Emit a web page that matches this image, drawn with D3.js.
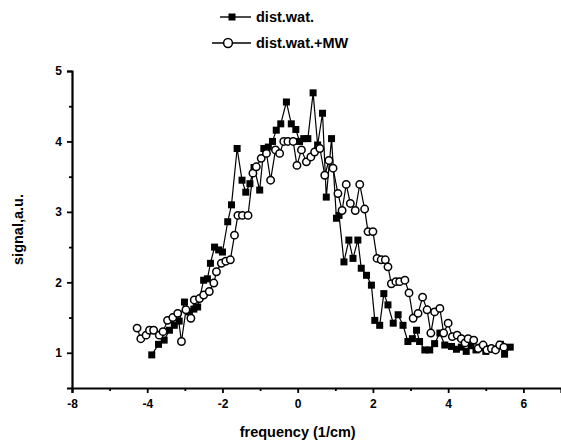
<!DOCTYPE html>
<html>
<head>
<meta charset="utf-8">
<script src="https://cdn.jsdelivr.net/npm/d3@7"></script>
<style>
  body { margin: 0; background: #fff; }
  svg { display: block; font-family: "Liberation Sans", Arial, sans-serif; font-weight: bold; }
</style>
</head>
<body>
<svg id="chart" width="561" height="444"></svg>
<script>
// dist.wat. (filled squares)
const waterX = [-3.88, -3.70, -3.55, -3.41, -3.28, -3.15, -3.01, -2.88, -2.76, -2.66, -2.50, -2.40, -2.32, -2.21, -2.10, -2.00,
  -1.86, -1.76, -1.61, -1.48, -1.38, -1.27, -1.16, -1.01, -0.90, -0.78, -0.67, -0.57, -0.45, -0.30, -0.17, -0.05,
  0.05, 0.16, 0.27, 0.41, 0.53, 0.66, 0.76, 0.90, 1.03, 1.10, 1.23, 1.36, 1.47, 1.60, 1.69, 1.83, 1.96,
  2.05, 2.18, 2.29, 2.40, 2.54, 2.67, 2.80, 2.93, 3.05, 3.16, 3.24, 3.38, 3.51, 3.64, 3.78, 3.91,
  4.09, 4.22, 4.35, 4.48, 4.61, 4.74, 4.87, 5.00, 5.13, 5.26, 5.39, 5.50, 5.65];
const waterY = [0.97, 1.12, 1.18, 1.32, 1.39, 1.45, 1.72, 1.58, 1.62, 1.65, 2.03, 2.05, 2.27, 2.50, 2.46, 2.43,
  2.86, 3.10, 3.90, 3.45, 3.28, 3.40, 3.63, 3.31, 3.90, 3.92, 4.00, 4.16, 4.25, 4.56, 4.25, 4.17,
  4.00, 4.04, 4.04, 4.69, 3.95, 4.40, 3.21, 4.04, 2.91, 2.95, 2.29, 2.60, 2.34, 2.60, 2.20, 2.10, 1.96,
  1.46, 1.39, 1.84, 1.68, 1.42, 1.54, 1.39, 1.16, 1.20, 1.32, 1.16, 1.04, 1.04, 1.13, 1.28, 1.11,
  1.09, 1.05, 1.08, 1.02, 1.10, 1.04, 1.08, 1.02, 1.06, 1.05, 1.12, 0.98, 1.08];

// dist.wat.+MW (open circles)
const mwX = [-4.27, -4.17, -4.03, -3.94, -3.83, -3.68, -3.58, -3.46, -3.32, -3.19, -3.09, -2.97, -2.84, -2.75, -2.61, -2.50,
  -2.35, -2.23, -2.16, -2.03, -1.91, -1.79, -1.68, -1.59, -1.47, -1.32, -1.19, -1.10, -0.97, -0.83, -0.72, -0.59,
  -0.48, -0.37, -0.26, -0.12, -0.02, 0.10, 0.23, 0.35, 0.45, 0.59, 0.72, 0.83, 0.94, 1.07, 1.18, 1.29, 1.40,
  1.53, 1.65, 1.78, 1.87, 2.00, 2.11, 2.22, 2.33, 2.40, 2.49, 2.61, 2.71, 2.85, 2.96, 3.07, 3.20, 3.32, 3.44,
  3.54, 3.64, 3.78, 3.88, 4.00, 4.11, 4.24, 4.35, 4.45, 4.53, 4.68, 4.80, 4.93, 5.03, 5.15, 5.26, 5.37, 5.48];
const mwY = [1.35, 1.20, 1.25, 1.32, 1.32, 1.25, 1.30, 1.46, 1.50, 1.56, 1.16, 1.61, 1.49, 1.75, 1.77, 1.82,
  1.87, 1.99, 2.15, 2.27, 2.30, 2.32, 2.67, 2.95, 2.95, 2.95, 3.55, 3.64, 3.76, 3.83, 3.45, 3.88,
  3.83, 4.00, 4.00, 4.00, 3.66, 3.88, 3.71, 3.78, 3.85, 3.90, 3.52, 3.73, 3.62, 3.26, 3.02, 3.39, 3.12,
  3.02, 3.39, 3.04, 2.72, 2.72, 2.34, 2.32, 2.32, 2.22, 1.98, 2.01, 2.01, 2.03, 1.85, 1.49, 1.56, 1.79, 1.61,
  1.28, 1.58, 1.63, 1.28, 1.42, 1.23, 1.25, 1.20, 1.14, 1.20, 1.18, 1.06, 1.11, 1.04, 1.06, 1.04, 1.11, 1.08];

const xTicks = [-6, -4, -2, 0, 2, 4, 6];
const xTickLabels = ["-8", "-4", "-2", "0", "2", "4", "6"];
const yTicks = [1, 2, 3, 4, 5];
const seriesNames = ["dist.wat.", "dist.wat.+MW"];

const svg = d3.select('#chart');
const margin = {left: 72, top: 71, right: 0, bottom: 56};
const width = 561, height = 444;

const x = d3.scaleLinear().domain([-6, 7]).range([margin.left, width - margin.right]);
const y = d3.scaleLinear().domain([0.5, 5]).range([height - margin.bottom, margin.top]);

// axes
const xAxis = d3.axisBottom(x).tickValues(xTicks).tickSize(5).tickPadding(6)
  .tickFormat((d, i) => xTickLabels[i]);
svg.append('g').attr('transform', `translate(0,${y(0.5)})`).call(xAxis);
const xMinor = d3.axisBottom(x).tickValues(d3.range(-5, 7, 2)).tickSize(3).tickFormat('');
svg.append('g').attr('transform', `translate(0,${y(0.5)})`).call(xMinor).select('.domain').remove();

const yAxis = d3.axisLeft(y).tickValues(yTicks).tickSize(5).tickPadding(5).tickFormat(d3.format('d'));
svg.append('g').attr('transform', `translate(${x(-6)},0)`).call(yAxis);
const yMinor = d3.axisLeft(y).tickValues([1.5, 2.5, 3.5, 4.5]).tickSize(3).tickFormat('');
svg.append('g').attr('transform', `translate(${x(-6)},0)`).call(yMinor).select('.domain').remove();

svg.selectAll('.domain').attr('stroke', '#000').attr('stroke-width', 2.2);
svg.selectAll('.tick line').attr('stroke', '#000').attr('stroke-width', 1.8);
svg.selectAll('.tick text').attr('font-size', 12).attr('font-weight', 'bold').attr('fill', '#000')
  .attr('font-family', '"Liberation Sans", Arial, sans-serif');

// axis titles
svg.append('text')
  .attr('x', x(0)).attr('y', 437)
  .attr('text-anchor', 'middle').attr('font-size', 14.5)
  .text('frequency (1/cm)');
svg.append('text')
  .attr('transform', `translate(23,${y(2.75)}) rotate(-90)`)
  .attr('text-anchor', 'middle').attr('font-size', 14.5)
  .text('signal,a.u.');

const line = d3.line().x(d => x(d[0])).y(d => y(d[1]));
const water = d3.zip(waterX, waterY);
const mw = d3.zip(mwX, mwY);

svg.append('path').datum(water).attr('d', line)
  .attr('fill', 'none').attr('stroke', '#000').attr('stroke-width', 1.2);
svg.append('path').datum(mw).attr('d', line)
  .attr('fill', 'none').attr('stroke', '#000').attr('stroke-width', 1.2);

const sq = 7;
svg.append('g').selectAll('rect').data(water).join('rect')
  .attr('x', d => x(d[0]) - sq / 2).attr('y', d => y(d[1]) - sq / 2)
  .attr('width', sq).attr('height', sq).attr('fill', '#000');

svg.append('g').selectAll('circle').data(mw).join('circle')
  .attr('cx', d => x(d[0])).attr('cy', d => y(d[1])).attr('r', 3.7)
  .attr('fill', '#fff').attr('stroke', '#000').attr('stroke-width', 1.5);

// legend
const legend = svg.append('g');
legend.append('line').attr('x1', 220).attr('x2', 251).attr('y1', 17).attr('y2', 17)
  .attr('stroke', '#000').attr('stroke-width', 1.4);
legend.append('rect').attr('x', 232 - sq / 2).attr('y', 17 - sq / 2).attr('width', sq).attr('height', sq).attr('fill', '#000');
legend.append('text').attr('x', 256).attr('y', 22).attr('font-size', 14.5).text(seriesNames[0]);
legend.append('line').attr('x1', 212).attr('x2', 251).attr('y1', 43).attr('y2', 43)
  .attr('stroke', '#000').attr('stroke-width', 1.4);
legend.append('circle').attr('cx', 228).attr('cy', 43).attr('r', 4.4)
  .attr('fill', '#fff').attr('stroke', '#000').attr('stroke-width', 1.5);
legend.append('text').attr('x', 256).attr('y', 48).attr('font-size', 14.5).text(seriesNames[1]);
</script>
</body>
</html>
